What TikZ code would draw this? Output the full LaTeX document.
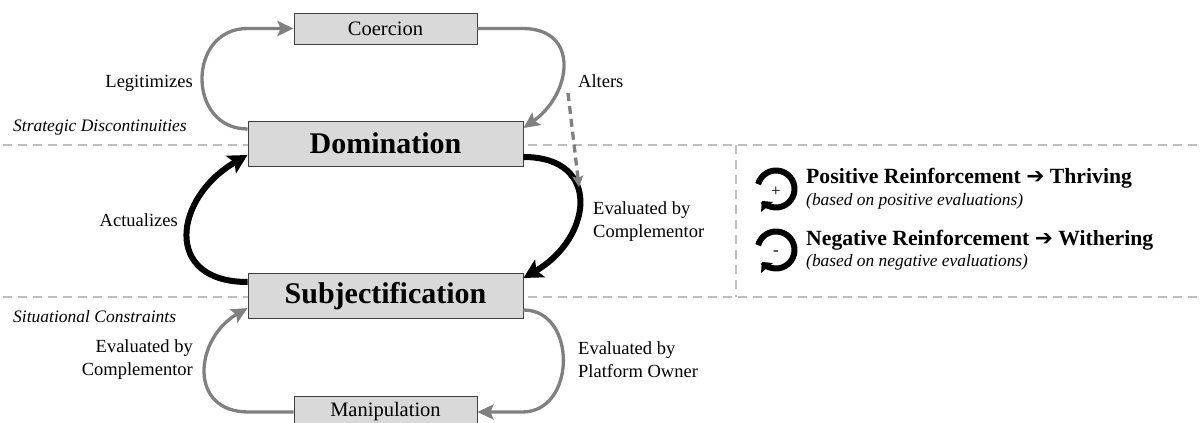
\documentclass[tikz,border=0pt]{standalone}
\usepackage{fontspec}
\setmainfont{Liberation Serif}
\newfontfamily\symfont{DejaVu Sans}
\usetikzlibrary{arrows.meta,positioning}

\begin{document}
\begin{tikzpicture}[x=1pt,y=1pt]
    \tikzstyle{box}=[draw=black!75, fill=black!15, line width=0.9pt, inner sep=0pt]
    \tikzstyle{small box}=[box, minimum width=183pt, minimum height=31pt, font=\fontsize{20.5}{24}\selectfont]
    \tikzstyle{big box}=[box, minimum width=275pt, minimum height=45pt, font=\fontsize{30}{34}\selectfont\bfseries]
    \tikzstyle{weak}=[draw=black!50, line width=3.3pt, -{Stealth[length=16pt,width=15pt,inset=3pt]}]
    \tikzstyle{strong}=[draw=black, line width=6pt, -{Stealth[length=19pt,width=20pt,inset=4pt]}]
    \tikzstyle{hint}=[draw=black!50, line width=3.3pt, dash pattern=on 8pt off 5pt, -{Stealth[length=11pt,width=11pt,inset=2pt]}]
    \tikzstyle{border}=[draw=black!25, line width=1.8pt, dash pattern=on 9pt off 6pt]
    \tikzstyle{annot}=[font=\fontsize{18.5}{23}\selectfont, inner sep=0pt]
    \tikzstyle{zone}=[font=\fontsize{17.5}{20}\selectfont\itshape, inner sep=0pt, anchor=base west]
    \tikzstyle{key}=[font=\fontsize{21.7}{24}\selectfont\bfseries, inner sep=0pt, anchor=base west]
    \tikzstyle{key note}=[font=\fontsize{17.4}{20}\selectfont\itshape, inner sep=0pt, anchor=base west]

    \useasboundingbox (0,0) rectangle (1200,423);

    % Draw the zone borders
    \draw[border] (3,278) -- (1200,278);
    \draw[border] (3,126) -- (1200,126);
    \draw[border] (736,278) -- (736,126);

    % Draw the structures
    \node[small box] (coer) at (385.5,394.5) {Coercion};
    \node[big box] (dom) at (385.5,279.5) {Domination};
    \node[big box] (subj) at (385.5,127) {Subjectification};
    \node[small box] (manip) at (385.5,11) {Manipulation};

    % Upper loop
    \draw[weak] ([yshift=14.5pt]dom.west) to[out=180,in=180,looseness=1.55] ([xshift=-46pt]coer.west) -- (coer.west);
    \draw[weak] (coer.east) -- ([xshift=45pt]coer.east) to[out=0,in=35,looseness=1.5] ([yshift=15.5pt]dom.east);

    % Middle loop
    \draw[strong] ([yshift=14pt]subj.west) to[out=180,in=210,looseness=1.72] ([yshift=-11.5pt]dom.west);
    \draw[strong] ([yshift=-13.5pt]dom.east) to[out=0,in=30,looseness=1.68] ([yshift=18pt]subj.east);

    % Lower loop
    \draw[weak] (manip.west) -- ([xshift=-45pt]manip.west) to[out=180,in=210,looseness=1.5] ([yshift=-12pt]subj.west);
    \draw[weak] ([yshift=-14pt]subj.east) to[out=0,in=0,looseness=1.35] ([xshift=45pt]manip.east) -- (manip.east);

    % Influence of coercion on the evaluation
    \coordinate (alt) at (568,330);
    \coordinate (evc) at (579,236);
    \draw[hint] (alt) -- (evc);

    % Annotate the loops
    \node[annot, anchor=base east] (legit) at (193,335) {Legitimizes};
    \node[annot, anchor=base west] (alters) at (578,335.5) {Alters};
    \node[annot, anchor=base east] (actual) at (178,196) {Actualizes};
    \node[annot, anchor=west, align=left] (evalc) at (593,201) {Evaluated by\\Complementor};
    \node[annot, anchor=east, align=right] (evall) at (193,63) {Evaluated by\\Complementor};
    \node[annot, anchor=west, align=left] (evalp) at (578,63) {Evaluated by\\Platform Owner};
    \node[zone] (strat) at (13,291) {Strategic Discontinuities};
    \node[zone] (situ) at (13,100) {Situational Constraints};

    % Legend
    \foreach \name/\y/\sign in {pos/234/+,neg/173/-} {
        \draw[line width=6pt, -{Triangle[length=8pt,width=15pt]}] ([shift={(165:18.5)}]776,\y) arc[start angle=165, end angle=-140, radius=18.5];
        \node[inner sep=0pt, font=\fontsize{17}{17}\selectfont] (\name-sign) at (776,\y-3) {\sign};
    }
    \node[key] (posk) at (806,239) {Positive Reinforcement {\symfont\bfseries\char"2794} Thriving};
    \node[key note] (posn) at (806,217) {(based on positive evaluations)};
    \node[key] (negk) at (806,177) {Negative Reinforcement {\symfont\bfseries\char"2794} Withering};
    \node[key note] (negn) at (806,156) {(based on negative evaluations)};

\end{tikzpicture}
\end{document}
